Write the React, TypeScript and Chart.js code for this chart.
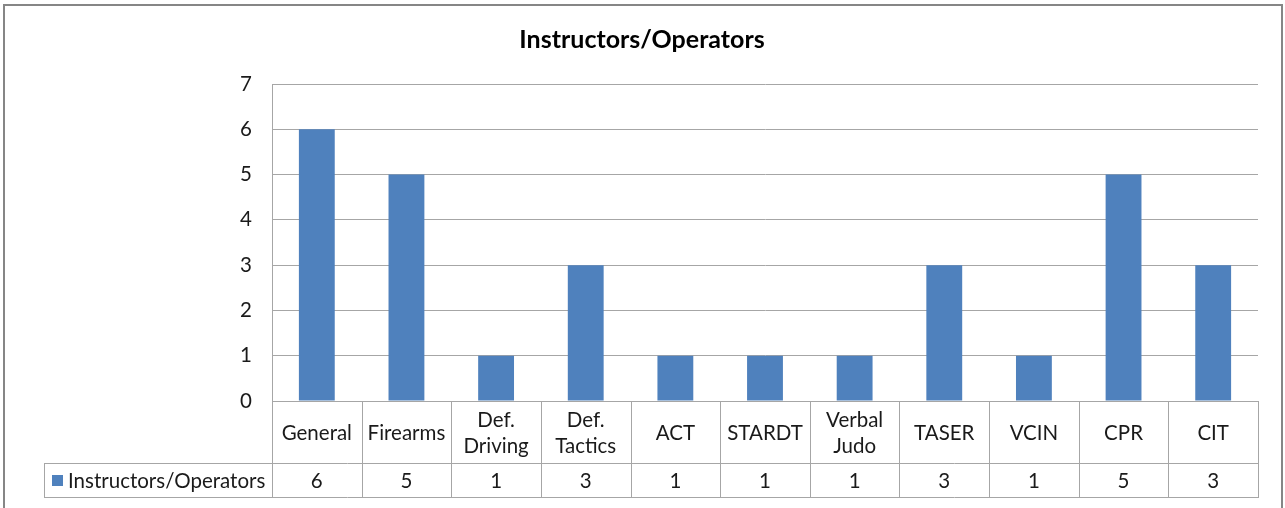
import React, { useEffect, useRef } from "react";
import { Chart, registerables } from "chart.js";

Chart.register(...registerables);

const title = "Instructors/Operators";
const seriesName = "Instructors/Operators";
const categories = ["General", "Firearms", "Def. Driving", "Def. Tactics", "ACT", "STARDT", "Verbal Judo", "TASER", "VCIN", "CPR", "CIT"];
const values = [6, 5, 1, 3, 1, 1, 1, 3, 1, 5, 3];
const yTicks = [0, 1, 2, 3, 4, 5, 6, 7];

const BAR = "#4f81bd";
const GRID = "#a6a6a6";
const TEXT = "#1a1a1a";
const FONT = "Lato, 'Liberation Sans', sans-serif";
const LABEL_SIZE = 20.5;

const tablePlugin = {
  id: "excelTable",
  afterDraw(chart: any) {
    const ctx = chart.ctx as CanvasRenderingContext2D;
    const area = chart.chartArea;
    const n = categories.length;
    const w = (area.right - area.left) / n;
    const top = area.bottom;
    const catBottom = top + 62;
    const valBottom = catBottom + 34;
    const legendLeft = 44;

    ctx.save();
    // outer border
    ctx.strokeStyle = "#868686";
    ctx.lineWidth = 2;
    ctx.strokeRect(4, 5, 1278, 600);

    // title
    ctx.fillStyle = "#000";
    ctx.font = `bold 25px ${FONT}`;
    ctx.textAlign = "center";
    ctx.textBaseline = "middle";
    ctx.fillText(title, 642, 40);

    // table lines
    ctx.strokeStyle = GRID;
    ctx.lineWidth = 1;
    ctx.beginPath();
    ctx.moveTo(area.left, top + 0.5);
    ctx.lineTo(area.right, top + 0.5);
    ctx.moveTo(legendLeft, catBottom + 0.5);
    ctx.lineTo(area.right, catBottom + 0.5);
    ctx.moveTo(legendLeft, valBottom + 0.5);
    ctx.lineTo(area.right, valBottom + 0.5);
    for (let i = 0; i <= n; i++) {
      const x = Math.round(area.left + i * w) + 0.5;
      ctx.moveTo(x, top);
      ctx.lineTo(x, valBottom + 1);
    }
    ctx.moveTo(legendLeft + 0.5, catBottom);
    ctx.lineTo(legendLeft + 0.5, valBottom + 1);
    ctx.stroke();

    // category labels and values
    ctx.fillStyle = TEXT;
    ctx.font = `${LABEL_SIZE}px ${FONT}`;
    ctx.textAlign = "center";
    ctx.textBaseline = "middle";
    for (let i = 0; i < n; i++) {
      const cx = area.left + (i + 0.5) * w;
      const label = categories[i];
      const lines = ctx.measureText(label).width > w - 6 ? label.split(" ") : [label];
      const lh = 26;
      const midY = (top + catBottom) / 2 + 1;
      lines.forEach((ln, k) => {
        ctx.fillText(ln, cx, midY + (k - (lines.length - 1) / 2) * lh);
      });
      ctx.fillText(String(values[i]), cx, (catBottom + valBottom) / 2 + 1);
    }

    // legend key
    ctx.fillStyle = BAR;
    ctx.fillRect(52, 475, 11, 11);
    ctx.fillStyle = TEXT;
    ctx.textAlign = "left";
    ctx.fillText(seriesName, 68, (catBottom + valBottom) / 2 + 1);
    ctx.restore();
  },
};

export default function App() {
  const ref = useRef<HTMLCanvasElement>(null);
  useEffect(() => {
    if (!ref.current) return;
    const chart = new Chart(ref.current, {
      type: "bar",
      data: {
        labels: categories,
        datasets: [
          {
            label: seriesName,
            data: values,
            backgroundColor: BAR,
            borderWidth: 0,
            categoryPercentage: 1,
            barPercentage: 0.4,
          },
        ],
      },
      options: {
        responsive: false,
        animation: false,
        events: [],
        layout: { padding: { left: 0, top: 84, right: 27, bottom: 107 } },
        plugins: { legend: { display: false }, title: { display: false }, tooltip: { enabled: false } },
        scales: {
          x: { display: false },
          y: {
            min: 0,
            max: 7,
            afterFit: (s: any) => {
              s.width = 272;
            },
            afterBuildTicks: (s: any) => {
              s.ticks = yTicks.map((v) => ({ value: v }));
            },
            border: { display: true, color: GRID, width: 1 },
            grid: { color: GRID, lineWidth: 1, drawTicks: false },
            ticks: {
              padding: 20,
              color: TEXT,
              font: { family: FONT, size: LABEL_SIZE },
            },
          },
        },
      },
      plugins: [tablePlugin],
    });
    return () => chart.destroy();
  }, []);
  return (
    <div style={{ position: "fixed", left: 0, top: 0, width: 1285, height: 508, background: "#fff" }}>
      <canvas ref={ref} width={1285} height={508} style={{ display: "block" }} />
    </div>
  );
}
